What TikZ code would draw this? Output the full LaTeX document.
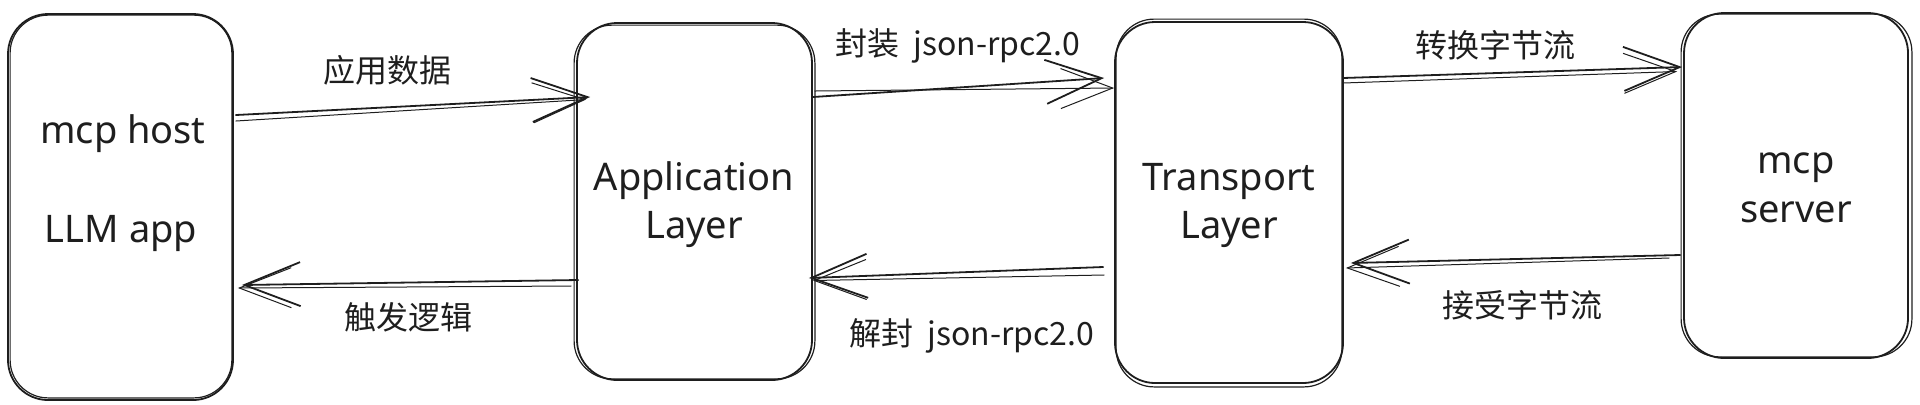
\documentclass[tikz,border=0pt]{standalone}
\usepackage{fontspec}
\setmainfont{Noto Sans}
\newfontfamily\cjk{Noto Sans CJK SC}
\usetikzlibrary{arrows.meta,calc}
\definecolor{ink}{HTML}{1E1E1E}
\begin{document}
\begin{tikzpicture}[x=0.5pt,y=-0.5pt,
  box/.style={draw=ink,line width=0.9pt,rounded corners=20pt,inner sep=0pt},
  sk/.style={draw=ink,line width=0.6pt,rounded corners=19pt},
  boxtext/.style={font=\fontsize{19}{24}\selectfont,text=ink,inner sep=0pt,anchor=base},
  lab/.style={font=\cjk\fontsize{16}{20}\selectfont,text=ink,inner sep=0pt},
  arr/.style={draw=ink,line width=0.9pt,line cap=round,-{Straight Barb[length=28pt,width=22pt,line width=0.9pt]}},
  arrb/.style={draw=ink,line width=0.5pt,line cap=round,-{Straight Barb[length=26pt,width=20pt,line width=0.5pt]}}
]
\useasboundingbox (0,0) rectangle (1920,404);

% boxes
\node[box,minimum width=112.5pt,minimum height=193pt] (host) at (120.5,207) {};
\node[box,minimum width=117.5pt,minimum height=178.5pt] (app) at (694.5,201.5) {};
\node[box,minimum width=114pt,minimum height=180.5pt] (trans) at (1229,202.5) {};
\node[box,minimum width=112pt,minimum height=172.5pt] (server) at (1796,185.5) {};

% sketchy second strokes
\draw[sk] ($(host.north west)+(3,2)$) rectangle ($(host.south east)+(-2,-3)$);
\draw[sk] ($(app.north west)+(-2,3)$) rectangle ($(app.south east)+(2,-2)$);
\draw[sk] ($(trans.north west)+(2,-2)$) rectangle ($(trans.south east)+(-2,3)$);
\draw[sk] ($(server.north west)+(-2,2)$) rectangle ($(server.south east)+(3,-2)$);

% box texts
\node[boxtext] (hostA) at (123,143) {mcp host};
\node[boxtext] (hostB) at (121,242) {LLM app};
\node[boxtext] (appA) at (694,190) {Application};
\node[boxtext] (appB) at (694,238) {Layer};
\node[boxtext] (transA) at (1229,190) {Transport};
\node[boxtext] (transB) at (1229,238) {Layer};
\node[boxtext] (serverA) at (1796,173) {mcp};
\node[boxtext] (serverB) at (1796,222) {server};

% connectors
\draw[arr]  ($(host.east)+(2,-92)$) -- ($(app.west)+(14,-104.5)$);
\draw[arrb] ($(host.east)+(2,-86)$) -- ($(app.west)+(10,-102)$);

\draw[arr]  ($(app.west)+(2,78.5)$) -- ($(host.east)+(8,78)$);
\draw[arrb] ($(app.west)+(-5,84.5)$) -- ($(host.east)+(4,81)$);

\draw[arr]  ($(app.east)+(0,-104.5)$) -- ($(trans.west)+(-10,-124.5)$);
\draw[arrb] ($(app.east)+(2,-110.5)$) -- ($(trans.west)+(0,-114.5)$);

\draw[arr]  ($(trans.west)+(-11,64.5)$) -- ($(app.east)+(-4,76.5)$);
\draw[arrb] ($(trans.west)+(-10,72.5)$) -- ($(app.east)+(0,79)$);

\draw[arr]  ($(trans.east)+(-1,-124.5)$) -- ($(server.west)+(-1,-118.5)$);
\draw[arrb] ($(trans.east)+(-1,-119.5)$) -- ($(server.west)+(-6,-114)$);

\draw[arr]  ($(server.west)+(-3,69.5)$) -- ($(trans.east)+(7,60.5)$);
\draw[arrb] ($(server.west)+(-14,72.5)$) -- ($(trans.east)+(2,65.5)$);

% labels
\node[lab] (l1) at (387,70) {应用数据};
\node[lab] (l2) at (408,317) {触发逻辑};
\node[lab,anchor=base] (l3) at (958,55) {封装\hspace{7pt}json-rpc2.0};
\node[lab,anchor=base] (l4) at (972,345) {解封\hspace{7pt}json-rpc2.0};
\node[lab] (l5) at (1495,45) {转换字节流};
\node[lab] (l6) at (1522,305) {接受字节流};
\end{tikzpicture}
\end{document}
